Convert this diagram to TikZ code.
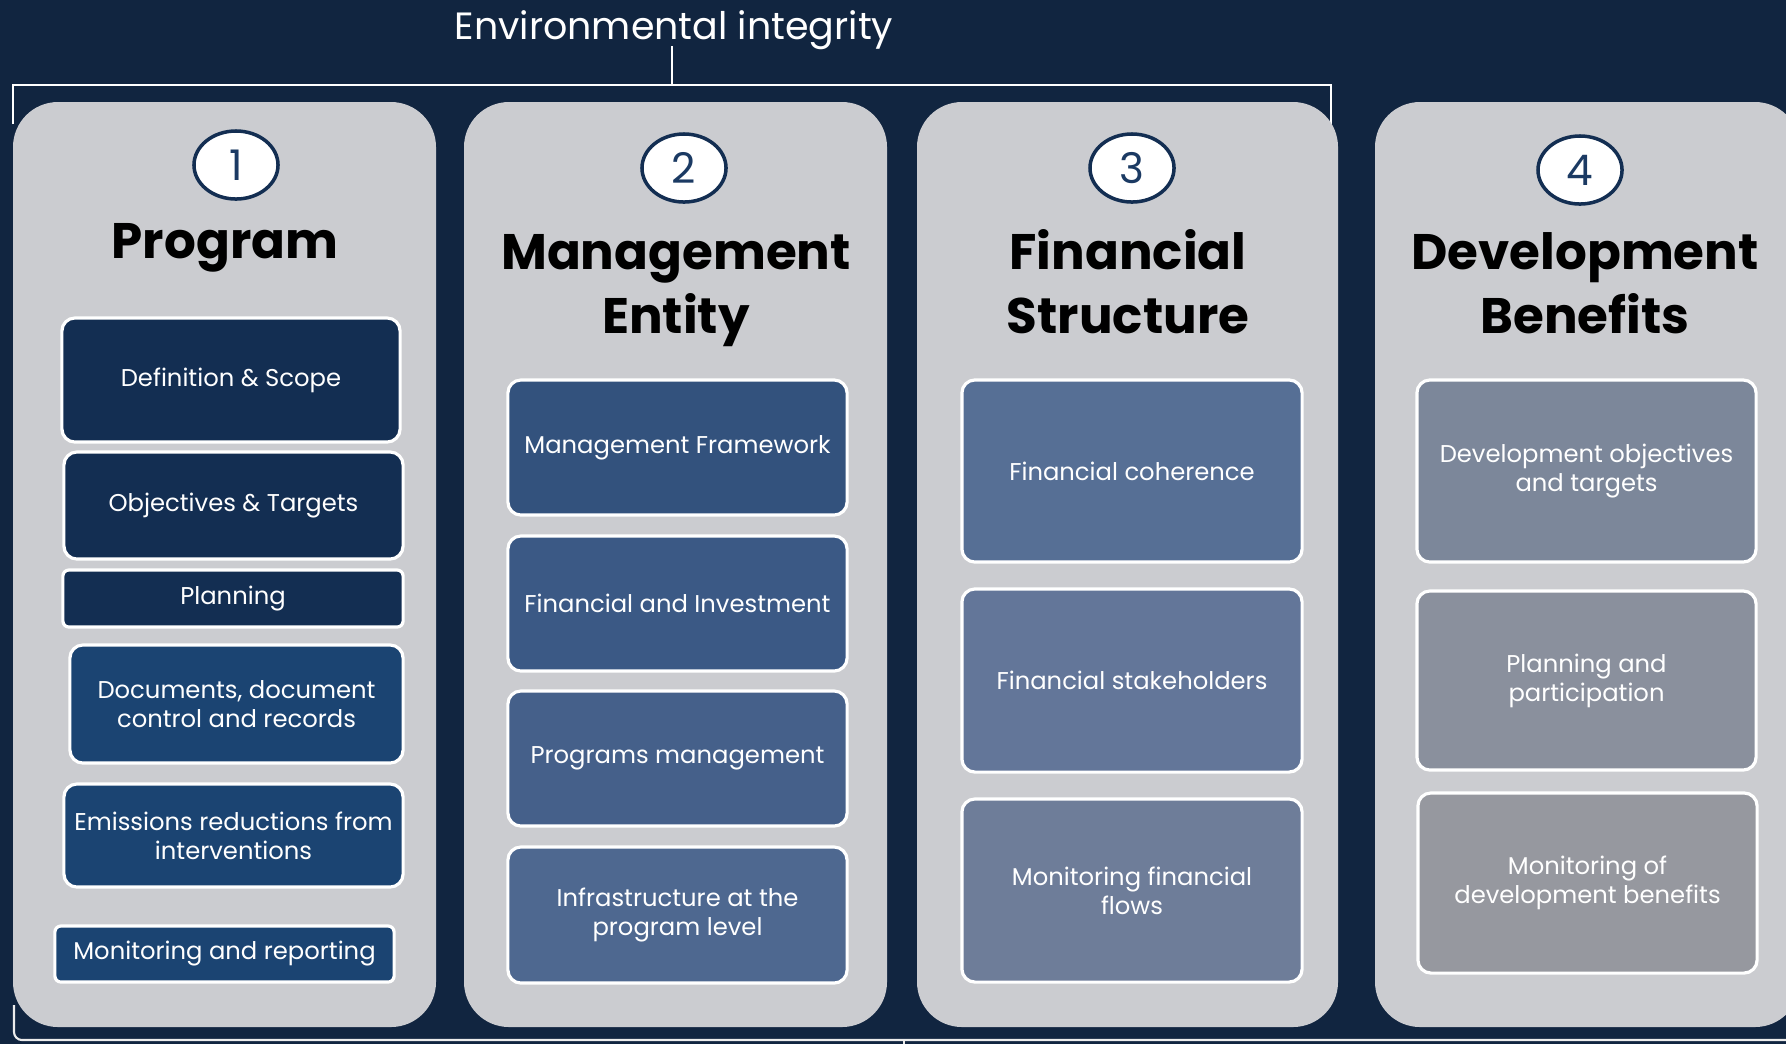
\documentclass[tikz,border=0pt]{standalone}
\usepackage{fontspec}
\setmainfont{Poppins}
\usepackage{tikz}
\usetikzlibrary{positioning,shapes.geometric}
\definecolor{bgnavy}{RGB}{17,37,64}
\definecolor{panelgray}{RGB}{203,204,208}
\definecolor{ringnavy}{RGB}{19,46,82}
\definecolor{digitblue}{RGB}{27,58,99}
\definecolor{progA}{RGB}{19,46,82}
\definecolor{progB}{RGB}{27,68,114}
\definecolor{mgmtA}{RGB}{51,82,125}
\definecolor{mgmtB}{RGB}{59,89,133}
\definecolor{mgmtC}{RGB}{69,96,138}
\definecolor{mgmtD}{RGB}{78,104,144}
\definecolor{finA}{RGB}{86,111,149}
\definecolor{finB}{RGB}{99,118,153}
\definecolor{finC}{RGB}{110,125,153}
\definecolor{devA}{RGB}{124,135,154}
\definecolor{devB}{RGB}{138,144,157}
\definecolor{devC}{RGB}{150,152,159}

\begin{document}
\begin{tikzpicture}[x=0.01cm, y=-0.01cm,
    panel/.style={fill=panelgray, rounded corners=0.45cm},
    item/.style={draw=white, line width=0.9pt, rounded corners=0.13cm, text=white,
        align=center, inner sep=0pt, font=\fontsize{6.9}{8.3}\selectfont},
    slim/.style={item, rounded corners=0.06cm},
    badge/.style={ellipse, draw=ringnavy, line width=1pt, fill=white, text=digitblue,
        minimum width=0.84cm, minimum height=0.68cm, inner sep=0pt, font=\fontsize{12}{14}\selectfont},
    title/.style={align=center, text=black, anchor=base, font=\fontsize{14.2}{18}\selectfont\bfseries},
    bracket/.style={draw=white, line width=0.6pt}]

    % Background
    \fill[bgnavy] (0,0) rectangle (1786,1044);
    \useasboundingbox (0,0) rectangle (1786,1044);

    % Environmental integrity bracket
    \node[text=white, anchor=base, font=\fontsize{10.8}{13}\selectfont] (envint) at (674,39) {Environmental integrity};
    \coordinate (brtop) at (672,46);
    \coordinate (brmid) at (672,85);
    \draw[bracket] (brtop) -- (brmid);
    \draw[bracket] (13,124) -- (13,85) -| (1331,124);

    % Bottom bracket
    \draw[bracket, draw=white!85!gray] (14,1005) -- (14,1032) arc (180:90:8) -- (1786,1040);
    \draw[bracket, draw=white!85!gray] (904,1040) -- (904,1044);

    % Panels
    \fill[panel] (13,102) rectangle (436,1027);
    \fill[panel] (464,102) rectangle (887,1027);
    \fill[panel] (917,102) rectangle (1338,1027);
    \fill[panel] (1375,102) rectangle (1800,1027);

    % Numbered badges
    \node[badge] (num1) at (236,165) {1};
    \node[badge] (num2) at (684,168) {2};
    \node[badge] (num3) at (1132,168) {3};
    \node[badge] (num4) at (1580,170) {4};

    % Titles (base = last line)
    \node[title] (program) at (225,258) {Program};
    \node[title] (mgmtentity) at (676,333) {Management\\Entity};
    \node[title] (finstruct) at (1128,333) {Financial\\Structure};
    \node[title] (devbenefits) at (1585,333) {Development\\Benefits};

    % Column 1: Program
    \node[item, fill=progA, minimum width=3.38cm, minimum height=1.24cm] (defscope) at (231,380) {Definition \& Scope};
    \node[item, fill=progA, minimum width=3.39cm, minimum height=1.07cm] (objtargets) at (233.5,505.5) {Objectives \& Targets};
    \node[slim, fill=progA, minimum width=3.40cm, minimum height=0.57cm] (planning) at (233,598.5) {Planning};
    \node[item, fill=progB, minimum width=3.33cm, minimum height=1.18cm] (documents) at (236.5,704) {Documents, document\\control and records};
    \node[item, fill=progB, minimum width=3.39cm, minimum height=1.03cm] (emissions) at (233.5,835.5) {Emissions reductions from\\interventions};
    \node[slim, fill=progB, minimum width=3.39cm, minimum height=0.56cm] (monreport) at (224.5,954) {Monitoring and reporting};

    % Column 2: Management Entity
    \node[item, fill=mgmtA, minimum width=3.39cm, minimum height=1.35cm] (mgmtframe) at (677.5,447.5) {Management Framework};
    \node[item, fill=mgmtB, minimum width=3.39cm, minimum height=1.35cm] (fininvest) at (677.5,603.5) {Financial and Investment};
    \node[item, fill=mgmtC, minimum width=3.39cm, minimum height=1.35cm] (progmgmt) at (677.5,758.5) {Programs management};
    \node[item, fill=mgmtD, minimum width=3.39cm, minimum height=1.36cm] (infra) at (677.5,915) {Infrastructure at the\\program level};

    % Column 3: Financial Structure
    \node[item, fill=finA, minimum width=3.40cm, minimum height=1.82cm] (fincoherence) at (1132,471) {Financial coherence};
    \node[item, fill=finB, minimum width=3.40cm, minimum height=1.83cm] (finstake) at (1132,680.5) {Financial stakeholders};
    \node[item, fill=finC, minimum width=3.40cm, minimum height=1.83cm] (monflows) at (1132,890.5) {Monitoring financial\\flows};

    % Column 4: Development Benefits
    \node[item, fill=devA, minimum width=3.39cm, minimum height=1.82cm] (devobj) at (1586.5,471) {Development objectives\\and targets};
    \node[item, fill=devB, minimum width=3.39cm, minimum height=1.79cm] (planpart) at (1586.5,680.5) {Planning and\\participation};
    \node[item, fill=devC, minimum width=3.39cm, minimum height=1.80cm] (mondev) at (1587.5,883) {Monitoring of\\development benefits};

\end{tikzpicture}
\end{document}
